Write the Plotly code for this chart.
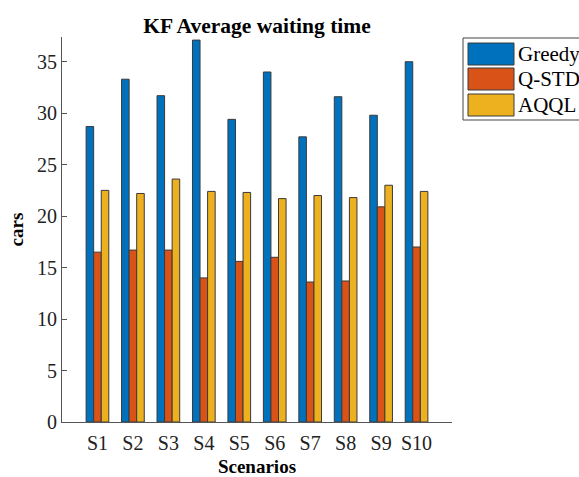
import plotly.graph_objects as go

categories = ["S1", "S2", "S3", "S4", "S5", "S6", "S7", "S8", "S9", "S10"]
series_names = ["Greedy", "Q-STD", "AQQL"]
greedy = [28.7, 33.3, 31.7, 37.1, 29.4, 34.0, 27.7, 31.6, 29.8, 35.0]
qstd = [16.5, 16.7, 16.7, 14.0, 15.6, 16.0, 13.6, 13.7, 20.9, 17.0]
aqql = [22.5, 22.2, 23.6, 22.4, 22.3, 21.7, 22.0, 21.8, 23.0, 22.4]
y_ticks = [0, 5, 10, 15, 20, 25, 30, 35]

colors = ["#0072BD", "#D95319", "#EDB120"]
series = [greedy, qstd, aqql]
FONT = "Liberation Serif"

W, H = 579, 477
L, R, T, B = 62, 452, 37, 422  # plot area in figure pixels

x_pos = list(range(1, len(categories) + 1))

fig = go.Figure()
for name, vals, col in zip(series_names, series, colors):
    fig.add_trace(go.Bar(
        x=x_pos, y=vals, name=name,
        marker=dict(color=col, line=dict(color="#3a3a3a", width=1)),
        showlegend=False,
    ))

def px_x(px):
    return (px - L) / (R - L)

def px_y(py):
    return (B - py) / (B - T)

shapes = []
annotations = []
# legend box
shapes.append(dict(type="rect", xref="paper", yref="paper",
                   x0=px_x(463), x1=px_x(600), y0=px_y(120), y1=px_y(38),
                   line=dict(color="#444444", width=1), fillcolor="white"))
sw_tops = [43, 68, 94]
for i, (name, col) in enumerate(zip(series_names, colors)):
    t = sw_tops[i]
    shapes.append(dict(type="rect", xref="paper", yref="paper",
                       x0=px_x(468), x1=px_x(514), y0=px_y(t + 22), y1=px_y(t),
                       line=dict(color="#3a3a3a", width=1), fillcolor=col))
    annotations.append(dict(xref="paper", yref="paper", x=px_x(516), y=px_y(t + 11),
                            text=name, showarrow=False, xanchor="left", yanchor="middle",
                            font=dict(family=FONT, size=21, color="black")))

fig.update_layout(
    width=W, height=H,
    margin=dict(l=L, r=W - R, t=T, b=H - B, autoexpand=False),
    paper_bgcolor="white", plot_bgcolor="white",
    barmode="group", bargap=0.36, bargroupgap=0.0,
    title=dict(text="<b>KF Average waiting time</b>", x=(L + R) / 2 / W, xanchor="center",
               y=1 - 25 / H, yanchor="middle",
               font=dict(family=FONT, size=21.5, color="black")),
    font=dict(family=FONT, size=20, color="black"),
    shapes=shapes, annotations=annotations,
    showlegend=False,
)
fig.update_xaxes(
    range=[0, 11], tickmode="array", tickvals=x_pos, ticktext=categories,
    showline=True, linecolor="#555555", linewidth=1, ticks="", showgrid=False,
    zeroline=False, tickfont=dict(family=FONT, size=20, color="#222222"),
    ticklabelstandoff=3,
    title=dict(text="<b>Scenarios</b>", font=dict(family=FONT, size=19, color="black"), standoff=6),
)
fig.update_yaxes(
    range=[0, 37.4], tickmode="array", tickvals=y_ticks,
    showline=True, linecolor="#555555", linewidth=1, ticks="inside", ticklen=5,
    tickcolor="#555555", showgrid=False, zeroline=False,
    tickfont=dict(family=FONT, size=20, color="#222222"),
    title=dict(text="<b>cars</b>", font=dict(family=FONT, size=19, color="black"), standoff=8),
)
fig.write_html(
    "out.html",
    config={"displayModeBar": False},
    post_script="document.body.style.margin='0';document.body.style.overflow='hidden';",
)
